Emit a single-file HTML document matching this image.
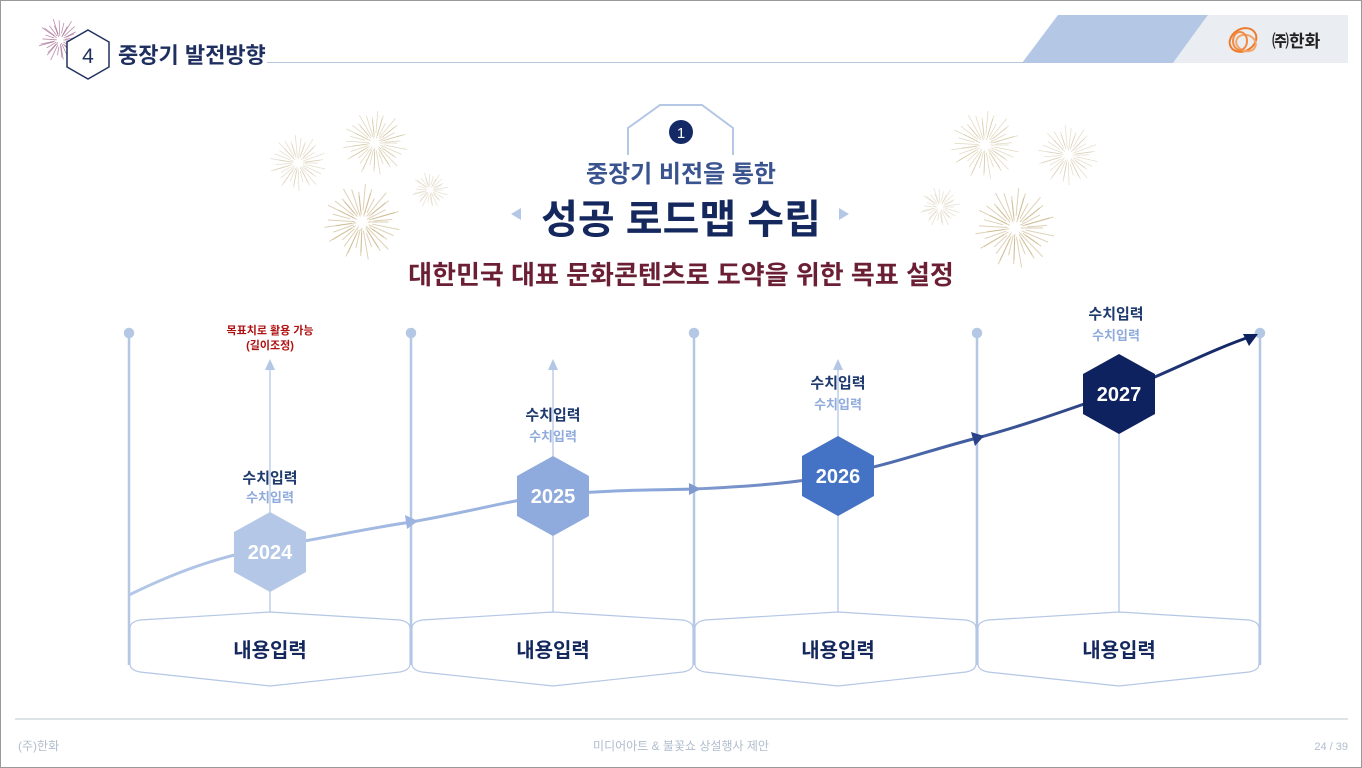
<!DOCTYPE html>
<html><head><meta charset="utf-8"><style>
html,body{margin:0;padding:0;background:#fff}
body{width:1362px;height:768px;overflow:hidden;position:relative;font-family:"Liberation Sans","Noto Sans CJK KR",sans-serif}
svg{position:absolute;left:0;top:0}
text{font-family:"Liberation Sans","Noto Sans CJK KR",sans-serif}
</style></head><body>
<svg id="s" width="1362" height="768" viewBox="0 0 1362 768">
<defs>
<linearGradient id="g" x1="129" y1="0" x2="1260" y2="0" gradientUnits="userSpaceOnUse">
<stop offset="0" stop-color="#b4c7e7"/><stop offset="0.45" stop-color="#8faadc"/><stop offset="0.7" stop-color="#4a66a8"/><stop offset="1" stop-color="#0f2260"/>
</linearGradient>
</defs>
<rect x="0.5" y="0.5" width="1361" height="767" fill="none" stroke="#999" stroke-width="1"/>
<g id="fw"></g>
<!-- header -->
<polygon points="88,30 109,42 109,67 88,79 67,67 67,42" fill="#fff" stroke="#1f3060" stroke-width="1.5"/>
<text x="88" y="63" text-anchor="middle" font-size="21" fill="#1f3060">4</text>
<text x="118" y="63" font-size="22" font-weight="bold" fill="#1f3060">중장기 발전방향</text>
<line x1="267" y1="62.5" x2="1030" y2="62.5" stroke="#b8c8dc" stroke-width="1"/>
<polygon points="1058,15 1208,15 1173,63 1022,63" fill="#b4c7e5"/>
<polygon points="1208,15 1348,15 1348,63 1173,63" fill="#eaedf2"/>
<g fill="none" stroke="#ee7a2a" stroke-width="2">
<ellipse cx="1243" cy="40" rx="14" ry="11" transform="rotate(-30 1243 40)"/>
<ellipse cx="1246" cy="43" rx="10" ry="8" stroke="#f3a46a" transform="rotate(20 1246 43)"/>
<ellipse cx="1240" cy="41" rx="7" ry="9" stroke="#f08a40"/>
</g>
<text x="1272" y="47" font-size="17" font-weight="bold" fill="#222">㈜한화</text>
<!-- title -->
<path d="M628,155 V128 L660,105 H702 L733,128 V155" fill="none" stroke="#b4c7e5" stroke-width="2"/>
<circle cx="681" cy="132" r="12" fill="#142a66"/>
<text x="681" y="138" text-anchor="middle" font-size="15" fill="#fff">1</text>
<text x="681" y="182" text-anchor="middle" font-size="24" font-weight="bold" fill="#3a5490">중장기 비전을 통한</text>
<text x="681" y="233" text-anchor="middle" font-size="40" font-weight="bold" fill="#14285e">성공 로드맵 수립</text>
<polygon points="511,214 521,208 521,220" fill="#b4c7e5"/>
<polygon points="849,214 839,208 839,220" fill="#b4c7e5"/>
<text x="681" y="284" text-anchor="middle" font-size="26" font-weight="bold" fill="#6b1f35">대한민국 대표 문화콘텐츠로 도약을 위한 목표 설정</text>
<!-- columns -->
<g stroke="#b4c7e5" stroke-width="2.5" fill="#b4c7e5">
<line x1="129" y1="333" x2="129" y2="665"/><circle cx="129" cy="333" r="4"/>
<line x1="411" y1="333" x2="411" y2="665"/><circle cx="411" cy="333" r="4"/>
<line x1="694" y1="333" x2="694" y2="665"/><circle cx="694" cy="333" r="4"/>
<line x1="977" y1="333" x2="977" y2="665"/><circle cx="977" cy="333" r="4"/>
<line x1="1260" y1="333" x2="1260" y2="665"/><circle cx="1260" cy="333" r="4"/>
</g>
<!-- stems -->
<g stroke="#b4c7e5" stroke-width="1.3">
<line x1="270" y1="365" x2="270" y2="612"/><line x1="553" y1="365" x2="553" y2="612"/>
<line x1="838" y1="365" x2="838" y2="612"/><line x1="1119" y1="394" x2="1119" y2="612"/>
</g>
<g fill="#b4c7e5">
<polygon points="270,359 265,370 275,370"/><polygon points="553,359 548,370 558,370"/><polygon points="838,359 833,370 843,370"/>
</g>
<text x="270" y="334" text-anchor="middle" font-size="11" font-weight="bold" fill="#b01010">목표치로 활용 가능</text>
<text x="270" y="349" text-anchor="middle" font-size="11" font-weight="bold" fill="#b01010">(길이조정)</text>
<!-- bottom boxes -->
<g fill="#fff" stroke="#b4c7e5" stroke-width="1.2" id="bx"></g>
<!-- curve -->
<path d="M129,595 C190,565 230,555 270,547 C330,537 370,528 411,522 C470,512 510,500 553,495 C610,490 650,490 694,489 C760,486 800,482 838,475 C890,465 930,450 977,438 C1030,424 1080,405 1119,392 C1170,372 1210,350 1255,335" fill="none" stroke="url(#g)" stroke-width="3"/>
<polygon points="418,521 405,515 407,529" fill="#9db3e0"/>
<polygon points="701,489 689,483 689,495" fill="#7f99cf"/>
<polygon points="984,436 971,432 975,446" fill="#2a4388"/>
<polygon points="1258,334 1243,334 1249,346" fill="#0f2260"/>
<!-- hexagons -->
<g font-weight="bold" text-anchor="middle">
<polygon points="270,512 306,532 306,572 270,592 234,572 234,532" fill="#b4c7e7"/>
<text x="270" y="559" font-size="20" fill="#fff">2024</text>
<polygon points="553,456 589,476 589,516 553,536 517,516 517,476" fill="#8faadc"/>
<text x="553" y="503" font-size="20" fill="#fff">2025</text>
<polygon points="838,436 874,456 874,496 838,516 802,496 802,456" fill="#4472c4"/>
<text x="838" y="483" font-size="20" fill="#fff">2026</text>
<polygon points="1119,354 1155,374 1155,414 1119,434 1083,414 1083,374" fill="#0f2260"/>
<text x="1119" y="401" font-size="20" fill="#fff">2027</text>
<text x="270" y="483" font-size="15" fill="#1f3a6e">수치입력</text><text x="270" y="502" font-size="13" fill="#8faadc">수치입력</text>
<text x="553" y="420" font-size="15" fill="#1f3a6e">수치입력</text><text x="553" y="441" font-size="13" fill="#8faadc">수치입력</text>
<text x="838" y="388" font-size="15" fill="#1f3a6e">수치입력</text><text x="838" y="409" font-size="13" fill="#8faadc">수치입력</text>
<text x="1116" y="319" font-size="15" fill="#1f3a6e">수치입력</text><text x="1116" y="340" font-size="13" fill="#8faadc">수치입력</text>
<text x="270" y="657" font-size="20" fill="#14285e">내용입력</text>
<text x="553" y="657" font-size="20" fill="#14285e">내용입력</text>
<text x="838" y="657" font-size="20" fill="#14285e">내용입력</text>
<text x="1119" y="657" font-size="20" fill="#14285e">내용입력</text>
</g>
<!-- footer -->
<line x1="15" y1="719" x2="1348" y2="719" stroke="#b8c8d0" stroke-width="1"/>
<text x="18" y="750" font-size="12" fill="#b0bccd">(주)한화</text>
<text x="681" y="750" text-anchor="middle" font-size="12" fill="#b0bccd">미디어아트 &amp; 불꽃쇼 상설행사 제안</text>
<text x="1348" y="750" text-anchor="end" font-size="11" fill="#b0bccd">24 / 39</text>
</svg>
<script>
var NS="http://www.w3.org/2000/svg";
var bx=document.getElementById("bx");
[[129,411,270],[411,694,553],[694,977,838],[977,1260,1119]].forEach(function(b){
 var p=document.createElementNS(NS,"path");
 var l=b[0]+1,r=b[1]-1,c=b[2];
 p.setAttribute("d","M"+l+",628 Q"+l+",622 "+(l+10)+",620 L"+c+",612 L"+(r-10)+",620 Q"+r+",622 "+r+",628 V664 Q"+r+",670 "+(r-10)+",672 L"+c+",686 L"+(l+10)+",672 Q"+l+",670 "+l+",664 Z");
 bx.appendChild(p);
});
var fw=document.getElementById("fw");
function burst(cx,cy,r,n,col,w,op){
 for(var i=0;i<n;i++){var a=i/n*Math.PI*2+((i*37)%7)*0.03;var r1=r*(0.15+((i*13)%5)*0.04);var r2=r*(0.7+((i*7)%4)*0.1);
 var l=document.createElementNS(NS,"line");
 l.setAttribute("x1",cx+Math.cos(a)*r1);l.setAttribute("y1",cy+Math.sin(a)*r1);
 l.setAttribute("x2",cx+Math.cos(a)*r2);l.setAttribute("y2",cy+Math.sin(a)*r2);
 l.setAttribute("stroke",col);l.setAttribute("stroke-width",w);l.setAttribute("opacity",op||"0.55");fw.appendChild(l);}
}
burst(298,163,28,40,"#d2c6a8",0.8);burst(375,143,32,44,"#c9b98e",0.8);burst(430,190,18,30,"#d7cdb4",0.8);burst(362,222,38,44,"#c3ad7c",1);
burst(985,145,34,44,"#cdbd94",0.8);burst(1068,155,30,40,"#d2c6a8",0.8);burst(940,207,20,30,"#d7cdb4",0.8);burst(1015,228,40,44,"#c3ad7c",1);
burst(60,40,22,30,"#a0608a",0.8,"0.7");
</script>
</body></html>
